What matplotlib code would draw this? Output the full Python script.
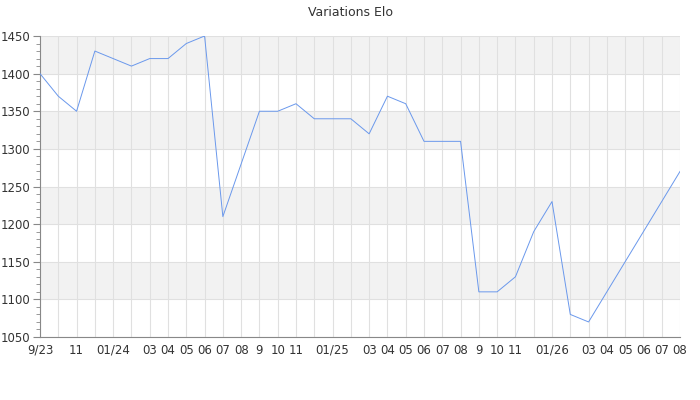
import matplotlib
matplotlib.use("Agg")
import matplotlib.pyplot as plt
import numpy as np

# Données : un point par mois, de 9/23 à 08/26
mois = ["9/23", "", "11", "", "01/24", "", "03", "04", "05", "06", "07", "08",
        "9", "10", "11", "", "01/25", "", "03", "04", "05", "06", "07", "08",
        "9", "10", "11", "", "01/26", "", "03", "04", "05", "06", "07", "08"]
elo = [1400, 1370, 1350, 1430, 1420, 1410, 1420, 1420, 1440, 1450,
       1210, 1280, 1350, 1350, 1360, 1340, 1340, 1340, 1320, 1370,
       1360, 1310, 1310, 1310, 1110, 1110, 1130, 1190, 1230, 1080,
       1070, 1110, 1150, 1190, 1230, 1270]

x = np.arange(len(elo))

fig = plt.figure(figsize=(7, 4), dpi=100)
ax = fig.add_axes([40 / 700, 1 - 337 / 400, 640 / 700, 301 / 400])

# Bandes grises alternées
for bas in range(1100, 1450, 100):
    ax.axhspan(bas, bas + 50, color="#f2f2f2", zorder=0, lw=0)

ax.set_xlim(0, len(elo) - 1)
ax.set_ylim(1050, 1450)

ax.set_xticks(x)
ax.set_xticklabels(mois)
ax.set_yticks(np.arange(1050, 1451, 50))
ax.set_yticks(np.arange(1050, 1451, 10), minor=True)

ax.grid(True, which="major", color="#e0e0e0", lw=0.8, zorder=1)
ax.set_axisbelow(True)

ax.plot(x, elo, color="#6a98ec", lw=0.7, zorder=3)

for cote in ["top", "right"]:
    ax.spines[cote].set_visible(False)
for cote in ["left", "bottom"]:
    ax.spines[cote].set_color("#888888")
    ax.spines[cote].set_linewidth(0.8)

ax.tick_params(axis="x", length=0, labelsize=8.5, colors="#333333", pad=5)
ax.tick_params(axis="y", which="major", length=5, color="#888888",
               labelsize=8.5, labelcolor="#333333", pad=2)
ax.tick_params(axis="y", which="minor", length=3, color="#888888")

fig.text(350 / 700, 1 - 12 / 400, "Variations Elo", ha="center", va="center",
         fontsize=9, color="#333333")

plt.savefig("out.png", dpi=100)
